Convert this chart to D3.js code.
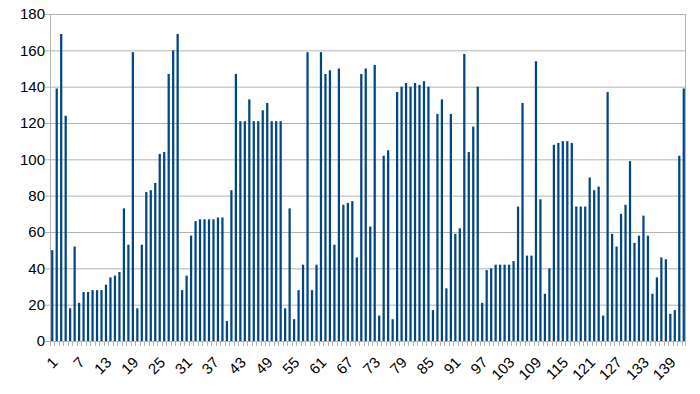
<!DOCTYPE html>
<html>
<head>
<meta charset="utf-8">
<script src="https://cdn.jsdelivr.net/npm/d3@7"></script>
<style>
  body { margin: 0; background: #fff; }
  svg text { font-family: "Liberation Sans", Arial, sans-serif; }
</style>
</head>
<body>
<div id="chart"></div>
<script>
// one value per category, categories are 1..142
var values = [
  50, 139, 169, 124, 18, 52, 21, 27, 27, 28,
  28, 28, 31, 35, 36, 38, 73, 53, 159, 18,
  53, 82, 83, 87, 103, 104, 147, 160, 169, 28,
  36, 58, 66, 67, 67, 67, 67, 68, 68, 11,
  83, 147, 121, 121, 133, 121, 121, 127, 131, 121,
  121, 121, 18, 73, 12, 28, 42, 159, 28, 42,
  159, 147, 149, 53, 150, 75, 76, 77, 46, 147,
  150, 63, 152, 14, 102, 105, 12, 137, 140, 142,
  140, 142, 141, 143, 140, 17, 125, 133, 29, 125,
  59, 62, 158, 104, 118, 140, 21, 39, 40, 42,
  42, 42, 42, 44, 74, 131, 47, 47, 154, 78,
  26, 40, 108, 109, 110, 110, 109, 74, 74, 74,
  90, 83, 85, 14, 137, 59, 52, 70, 75, 99,
  54, 58, 69, 58, 26, 35, 46, 45, 15, 17,
  102, 139
];
var categories = values.map((v, i) => i + 1);
var yTicks = [0, 20, 40, 60, 80, 100, 120, 140, 160, 180];
var xLabels = categories.filter((c, i) => i % 6 == 0);

var W = 700, H = 394;
var margin = {top: 14, right: 14, bottom: 53, left: 50};
var width = W - margin.left - margin.right,
    height = H - margin.top - margin.bottom;

var svg = d3.select("#chart")
  .append("svg")
    .attr("width", W)
    .attr("height", H);

var chart = svg.append("g")
    .attr("transform", "translate(" + margin.left + "," + margin.top + ")");

const yScale = d3.scaleLinear()
    .range([height, 0])
    .domain([0, 180]);

const xScale = d3.scaleBand()
    .range([0, width])
    .domain(categories)
    .paddingInner(0.5)
    .paddingOuter(0.25);

// band boundaries, for the small ticks under the axis
const xEdges = d3.scaleBand()
    .range([0, width])
    .domain(categories);

var grey = "#b3b3b3";

// grid + y axis
chart.append("g")
    .call(d3.axisLeft(yScale).tickValues(yTicks).tickSize(-width).tickPadding(5))
    .call(g => g.select(".domain").remove())
    .call(g => g.selectAll(".tick line").attr("stroke", grey).attr("x1", -5))
    .call(g => g.selectAll(".tick text")
        .attr("font-size", "15px")
        .attr("fill", "#000"));

// frame: left, right
chart.append("line")
    .attr("x1", 0.5).attr("x2", 0.5).attr("y1", 0).attr("y2", height)
    .attr("stroke", grey);
chart.append("line")
    .attr("x1", width - 0.5).attr("x2", width - 0.5).attr("y1", 0).attr("y2", height + 5)
    .attr("stroke", grey);

// category ticks
chart.append("g")
    .selectAll("line")
    .data(categories)
    .enter()
    .append("line")
    .attr("x1", d => Math.round(xEdges(d)) + 0.5)
    .attr("x2", d => Math.round(xEdges(d)) + 0.5)
    .attr("y1", height)
    .attr("y2", height + 5)
    .attr("stroke", grey);

chart.selectAll()
    .data(categories.map((c, i) => [c, values[i]]))
    .enter()
    .append("rect")
    .attr("x", d => xScale(d[0]))
    .attr("y", d => yScale(d[1]))
    .attr("height", d => height - yScale(d[1]))
    .attr("width", xScale.bandwidth())
    .attr("fill", "#004586");

// x axis line
chart.append("line")
    .attr("x1", 0).attr("x2", width)
    .attr("y1", height + 0.5).attr("y2", height + 0.5)
    .attr("stroke", grey);

// rotated category labels
chart.append("g")
    .selectAll("text")
    .data(xLabels)
    .enter()
    .append("text")
    .text(d => d)
    .attr("transform", d => "translate(" + (xScale(d) + xScale.bandwidth() / 2 - 1) + "," + (height + 15) + ") rotate(-45)")
    .attr("text-anchor", "end")
    .attr("dy", "0.7em")
    .attr("font-size", "15px")
    .attr("fill", "#000");
</script>
</body>
</html>
